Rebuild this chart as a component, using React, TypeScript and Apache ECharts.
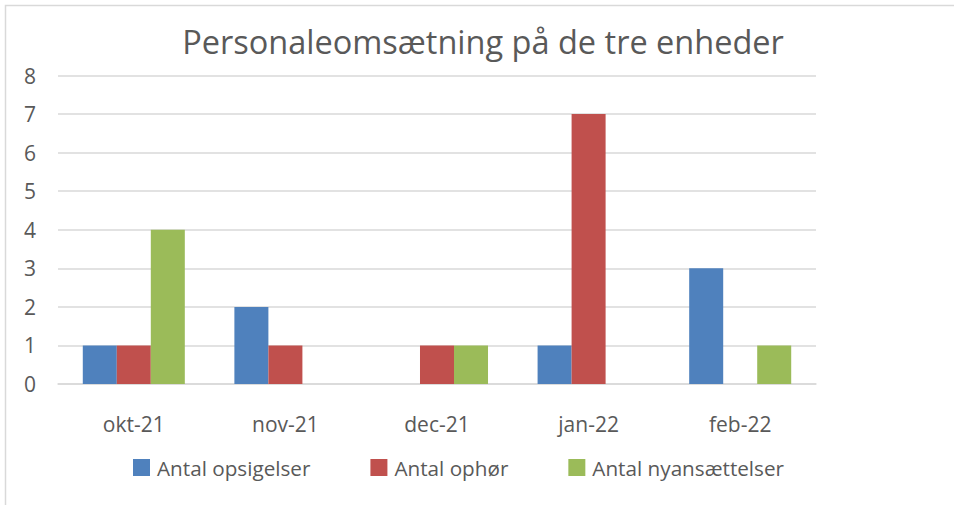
import React, { useEffect, useRef } from "react";
import * as echarts from "echarts";

const categories = ["okt-21", "nov-21", "dec-21", "jan-22", "feb-22"];
const opsigelser = [1, 2, 0, 1, 3];
const ophor = [1, 1, 1, 7, 0];
const nyansaettelser = [4, 0, 1, 0, 1];
const seriesNames = ["Antal opsigelser", "Antal ophør", "Antal nyansættelser"];
const colors = ["#4f81bd", "#c0504d", "#9bbb59"];
const titleText = "Personaleomsætning på de tre enheder";

export default function App() {
  const ref = useRef<HTMLDivElement>(null);
  useEffect(() => {
    document.body.style.margin = "0";
    const chart = echarts.init(ref.current!, null, { renderer: "svg" });
    const font = "'Open Sans', Lato, sans-serif";
    const toSeries = (name: string, data: number[], color: string) => ({
      name,
      type: "bar",
      data: data.map((v) => (v === 0 ? null : v)),
      itemStyle: { color },
      barGap: "0%",
      barCategoryGap: "32.7%",
    });
    chart.setOption({
      animation: false,
      backgroundColor: "#ffffff",
      graphic: [
        {
          type: "rect",
          shape: { x: 5.5, y: 5.5, width: 1000, height: 1000 },
          style: { fill: "none", stroke: "#d9d9d9", lineWidth: 1.5 },
          silent: true,
        },
      ],
      title: {
        text: titleText,
        left: 478,
        textAlign: "center",
        top: 20,
        textStyle: {
          fontFamily: font,
          fontSize: 32.5,
          fontWeight: "normal",
          color: "#595959",
        },
      },
      legend: {
        left: 128,
        top: 452,
        itemWidth: 17,
        itemHeight: 17,
        itemGap: 60,
        icon: "rect",
        textStyle: { fontFamily: font, fontSize: 20.7, color: "#595959", padding: [0, 0, 0, 2] },
        data: seriesNames,
      },
      grid: { left: 58, right: 138, top: 75.5, bottom: 121 },
      xAxis: {
        type: "category",
        data: categories,
        axisLine: { lineStyle: { color: "#d9d9d9", width: 1.5 } },
        axisTick: { show: false },
        axisLabel: {
          fontFamily: font,
          fontSize: 21,
          color: "#595959",
          margin: 29,
        },
      },
      yAxis: {
        type: "value",
        min: 0,
        max: 8,
        interval: 1,
        axisLine: { show: false },
        axisTick: { show: false },
        splitLine: { lineStyle: { color: "#d9d9d9", width: 1.5 } },
        axisLabel: {
          fontFamily: font,
          fontSize: 21,
          color: "#595959",
          margin: 22,
        },
      },
      series: [
        toSeries(seriesNames[0], opsigelser, colors[0]),
        toSeries(seriesNames[1], ophor, colors[1]),
        toSeries(seriesNames[2], nyansaettelser, colors[2]),
      ],
    });
    return () => chart.dispose();
  }, []);
  return <div ref={ref} style={{ width: 954, height: 505 }} />;
}
